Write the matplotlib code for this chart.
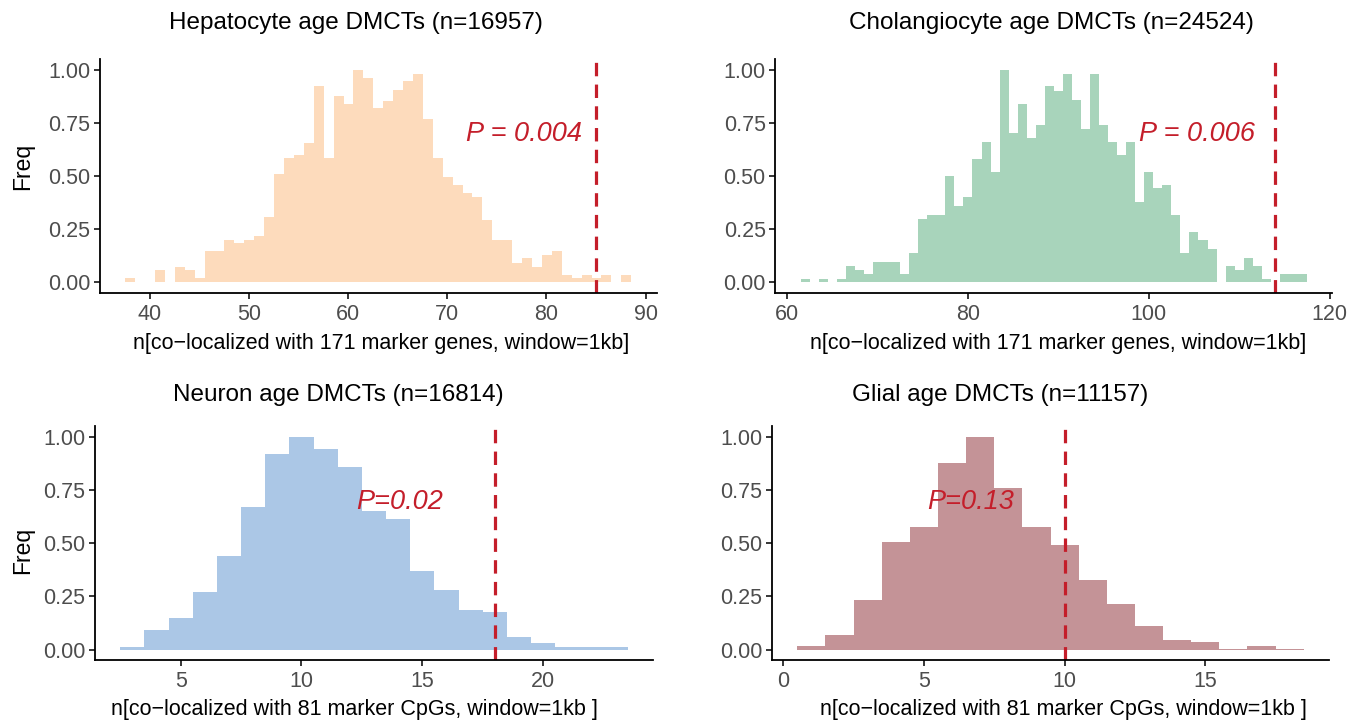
import matplotlib
matplotlib.use("Agg")
import matplotlib.pyplot as plt
import numpy as np

plt.rcParams["font.family"] = ["Liberation Sans", "DejaVu Sans"]

# ---- data (normalised frequencies, bin width = 1) ----
hep_start = 37.55
hep_freq = [0.019, 0, 0, 0.055, 0, 0.073, 0.055, 0.019, 0.145, 0.145,
            0.2, 0.183, 0.2, 0.217, 0.308, 0.51, 0.584, 0.597, 0.655, 0.925,
            0.584, 0.875, 0.839, 1.0, 0.964, 0.819, 0.855, 0.906, 0.948, 0.983,
            0.769, 0.584, 0.495, 0.459, 0.42, 0.4, 0.292, 0.2, 0.2, 0.089,
            0.112, 0.073, 0.128, 0.148, 0.034, 0.019, 0.034, 0.019, 0.034, 0,
            0.034]
hep_obs = 85
hep_p = "P = 0.004"

cho_start = 61.5
cho_freq = [0.016, 0, 0.016, 0, 0.016, 0.075, 0.055, 0.036, 0.096, 0.096,
            0.096, 0.036, 0.138, 0.295, 0.317, 0.317, 0.498, 0.357, 0.40, 0.58,
            0.661, 0.517, 1.0, 0.702, 0.839, 0.679, 0.74, 0.922, 0.901, 0.98,
            0.857, 0.721, 0.98, 0.74, 0.661, 0.599, 0.661, 0.376, 0.517, 0.442,
            0.459, 0.317, 0.138, 0.238, 0.199, 0.157, 0, 0.075, 0.055, 0.114,
            0.075, 0.016, 0, 0.036, 0.036, 0.036]
cho_obs = 114
cho_p = "P = 0.006"

neu_start = 2.5
neu_freq = [0.012, 0.094, 0.147, 0.27, 0.44, 0.671, 0.92, 1.0, 0.94, 0.857,
            0.652, 0.612, 0.371, 0.279, 0.187, 0.178, 0.059, 0.031, 0.012, 0.012,
            0.012]
neu_obs = 18
neu_p = "P=0.02"

gli_start = 0.5
gli_freq = [0.019, 0.07, 0.234, 0.504, 0.574, 0.874, 1.0, 0.757, 0.574, 0.49,
            0.328, 0.215, 0.109, 0.044, 0.036, 0.005, 0.016, 0.005]
gli_obs = 10
gli_p = "P=0.13"

titles = ["Hepatocyte age DMCTs (n=16957)", "Cholangiocyte age DMCTs (n=24524)",
          "Neuron age DMCTs (n=16814)", "Glial age DMCTs (n=11157)"]
xlabels = ["n[co\u2212localized with 171 marker genes, window=1kb]",
           "n[co\u2212localized with 171 marker genes, window=1kb]",
           "n[co\u2212localized with 81 marker CpGs, window=1kb ]",
           "n[co\u2212localized with 81 marker CpGs, window=1kb ]"]
xticks = [[40, 50, 60, 70, 80, 90], [60, 80, 100, 120], [5, 10, 15, 20], [0, 5, 10, 15]]
yticks = [0.0, 0.25, 0.5, 0.75, 1.0]

colors = ["#FDDBBC", "#A8D4BB", "#ABC7E6", "#C49397"]
red = "#C41E2A"

W, H = 1348, 723


def px_rect(left, right, top, bottom):
    return [left / W, 1 - bottom / H, (right - left) / W, (bottom - top) / H]


def draw_panel(ax, start, freq, obs, ptext, color, ticks, ptx, pty, pha):
    freq = np.asarray(freq)
    edges = start + np.arange(len(freq))
    ax.bar(edges, freq, width=1.0, align="edge", color=color, linewidth=0)
    span = len(freq)
    ax.set_xlim(start - 0.05 * span, start + span + 0.05 * span)
    ax.set_ylim(-0.05, 1.05)
    ax.axvline(obs, color=red, lw=2.3, dashes=(4.2, 2.6))
    ax.text(ptx, pty, ptext, color=red, fontsize=19.5, style="italic",
            ha=pha, va="center")
    ax.set_xticks(ticks)
    ax.set_yticks(yticks)
    ax.set_yticklabels(["0.00", "0.25", "0.50", "0.75", "1.00"])
    for s in ["top", "right"]:
        ax.spines[s].set_visible(False)
    for s in ["left", "bottom"]:
        ax.spines[s].set_linewidth(1.3)
        ax.spines[s].set_color("black")
    ax.tick_params(axis="both", length=4, width=1.1, color="black",
                   labelcolor="#4D4D4D", labelsize=15.5, pad=3)
    ax.tick_params(axis="x", pad=4)


fig = plt.figure(figsize=(W / 100, H / 100), dpi=100)

ax1 = fig.add_axes(px_rect(100, 656.5, 59.3, 292.7))
ax2 = fig.add_axes(px_rect(775.4, 1332.3, 59.3, 292.7))
ax3 = fig.add_axes(px_rect(94.9, 653, 426, 660.3))
ax4 = fig.add_axes(px_rect(772, 1329, 426, 660.3))

draw_panel(ax1, hep_start, hep_freq, hep_obs, hep_p, colors[0], xticks[0], 83.6, 0.70, "right")
draw_panel(ax2, cho_start, cho_freq, cho_obs, cho_p, colors[1], xticks[1], 111.8, 0.70, "right")
draw_panel(ax3, neu_start, neu_freq, neu_obs, neu_p, colors[2], xticks[2], 12.25, 0.695, "left")
draw_panel(ax4, gli_start, gli_freq, gli_obs, gli_p, colors[3], xticks[3], 5.1, 0.695, "left")

# titles, axis labels placed in pixel coordinates
title_pos = [(356, 29.3), (1051.5, 29.3), (338.5, 401.3), (999.7, 401.3)]
xlab_pos = [(381, 349.3), (1058.2, 349.3), (354.4, 714.7), (1063.7, 714.7)]
for t, (x, y) in zip(titles, title_pos):
    fig.text(x / W, 1 - y / H, t, fontsize=17.5, ha="center", va="baseline", color="black")
for t, (x, y) in zip(xlabels, xlab_pos):
    fig.text(x / W, 1 - y / H, t, fontsize=15.5, ha="center", va="baseline", color="black")
for y in [166.7, 550.3]:
    fig.text(23 / W, 1 - y / H, "Freq", fontsize=16.5, rotation=90,
             ha="center", va="center", color="black")

fig.savefig("out.png", dpi=100)
